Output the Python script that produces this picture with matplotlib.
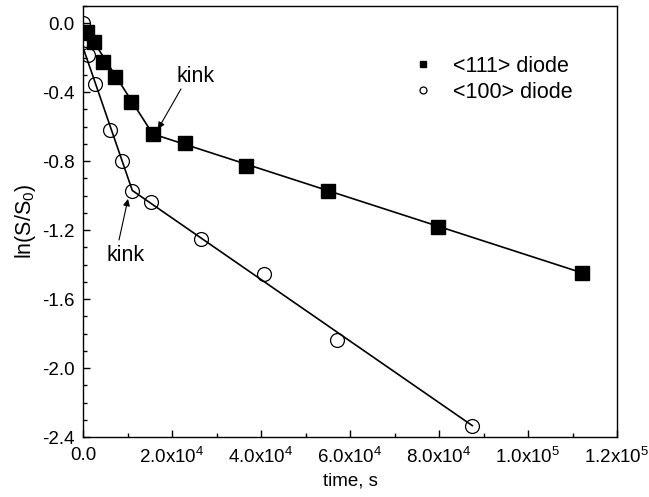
import math
import matplotlib
matplotlib.use("Agg")
import matplotlib.pyplot as plt
from matplotlib.ticker import MultipleLocator, FuncFormatter

plt.rcParams['font.family'] = ['Liberation Sans', 'DejaVu Sans']
plt.rcParams['mathtext.default'] = 'regular'

# <111> diode data
t_111 = [966, 2540, 4560, 7190, 10790, 15660, 22920, 36630, 55120, 79710, 112070]
y_111 = [-0.049, -0.107, -0.223, -0.31, -0.455, -0.642, -0.696, -0.828, -0.973, -1.18, -1.447]
# <100> diode data
t_100 = [0, 600, 1190, 2700, 6070, 8700, 11080, 15210, 26520, 40740, 57010, 87480]
y_100 = [0.0, -0.10, -0.184, -0.354, -0.619, -0.797, -0.971, -1.035, -1.253, -1.454, -1.837, -2.334]

# piecewise linear fits (start, kink, end)
fit_111_t = [0, 15660, 112070]
fit_111_y = [-0.01, -0.642, -1.447]
fit_100_t = [0, 11080, 87480]
fit_100_y = [-0.14, -0.97, -2.334]

x_ticks = [0, 2e4, 4e4, 6e4, 8e4, 1e5, 1.2e5]
y_ticks = [0.0, -0.4, -0.8, -1.2, -1.6, -2.0, -2.4]

fig = plt.figure(figsize=(6.49, 4.97), dpi=100)
ax = fig.add_axes([0.1279, 0.1207, 0.8228, 0.8672])

ax.plot(fit_111_t, fit_111_y, color='black', lw=1.2, zorder=2)
ax.plot(fit_100_t, fit_100_y, color='black', lw=1.2, zorder=2)
h1, = ax.plot(t_111, y_111, ls='none', marker='s', ms=9.5, mfc='black', mec='black',
              label='<111> diode', zorder=3)
h2, = ax.plot(t_100, y_100, ls='none', marker='o', ms=10, mfc='none', mec='black',
              mew=0.9, label='<100> diode', zorder=4)

ax.set_xlim(0, 1.2e5)
ax.set_ylim(-2.4, 0.1)
ax.set_xticks(x_ticks)
ax.set_yticks(y_ticks)
ax.xaxis.set_minor_locator(MultipleLocator(1e4))
ax.yaxis.set_minor_locator(MultipleLocator(0.1))

def xfmt(v, pos):
    if v == 0:
        return '0.0'
    e = int(math.floor(math.log10(abs(v))))
    m = v / 10 ** e
    return r'%.1fx10$^{%d}$' % (m, e)

ax.xaxis.set_major_formatter(FuncFormatter(xfmt))
ax.yaxis.set_major_formatter(FuncFormatter(lambda v, p: '%.1f' % v))
ax.tick_params(which='both', direction='in', top=False, right=False, labelsize=13.5)
ax.tick_params(axis='y', which='major', pad=6)
ax.tick_params(axis='x', which='major', pad=7)
ax.tick_params(which='major', length=5, width=1)
ax.tick_params(which='minor', length=3, width=1)
for s in ax.spines.values():
    s.set_linewidth(1)

ax.set_xlabel('time, s', fontsize=13.5, labelpad=4)
ax.set_ylabel('ln(S/S$_0$)', fontsize=15.5, labelpad=3)

arrow_kw = dict(arrowstyle='-|>', color='black', lw=0.8, mutation_scale=10,
                shrinkA=0, shrinkB=0)
ax.text(25390, -0.311, 'kink', fontsize=15.5, ha='center', va='center')
ax.annotate('', xy=(16850, -0.614), xytext=(22020, -0.381), arrowprops=arrow_kw)
ax.text(9660, -1.349, 'kink', fontsize=15.5, ha='center', va='center')
ax.annotate('', xy=(10110, -1.019), xytext=(8090, -1.257), arrowprops=arrow_kw)

ax.legend(handles=[h1, h2], loc='upper left', bbox_to_anchor=(0.616, 0.885),
          frameon=False, markerscale=0.5, fontsize=15.5, labelspacing=0.25,
          handletextpad=0.9, handlelength=1.0, borderpad=0, borderaxespad=0)

fig.savefig('out.png', dpi=100)
